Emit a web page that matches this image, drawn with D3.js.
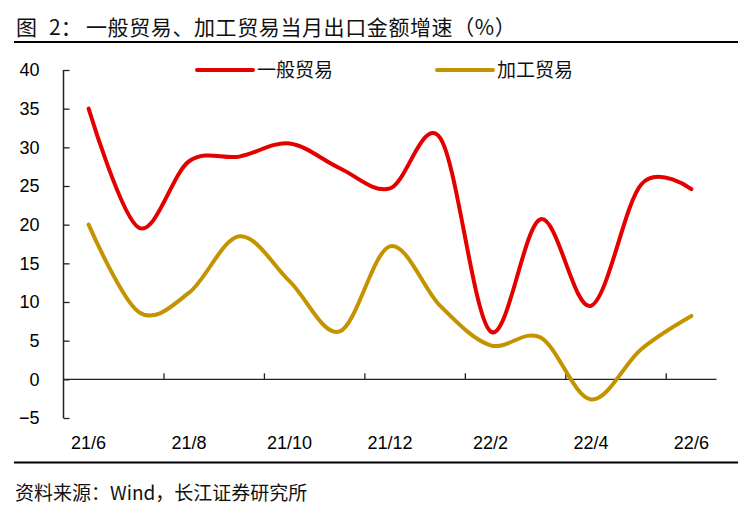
<!DOCTYPE html>
<html>
<head>
<meta charset="utf-8">
<script src="https://cdn.jsdelivr.net/npm/d3@7"></script>
<style>
  body { margin: 0; background: #fff; }
  text { font-family: "Liberation Sans", Arial, sans-serif; }
  .cjk { font-family: "Noto Sans CJK SC", sans-serif; }
</style>
</head>
<body>
<div id="wrapper"></div>
<script>
// data
const months = ["21/6","21/7","21/8","21/9","21/10","21/11","21/12","22/1","22/2","22/3","22/4","22/5","22/6"]
const generalTrade = [35.0, 19.6, 28.2, 28.8, 30.5, 27.3, 24.7, 31.2, 6.2, 20.7, 9.5, 25.2, 24.6]
const processingTrade = [20.0, 8.7, 11.2, 18.5, 12.7, 6.2, 17.2, 9.5, 4.4, 5.4, -2.6, 3.9, 8.2]
const yTicks = [-5, 0, 5, 10, 15, 20, 25, 30, 35, 40]
const xLabels = ["21/6","21/8","21/10","21/12","22/2","22/4","22/6"]
const seriesNames = ["一般贸易", "加工贸易"]
const colors = ["#E50000", "#C49300"]

const width = 756
const height = 520
const dimensions = {
  left: 63.5,
  right: 716.5,
  top: 70,
  bottom: 418
}

const svg = d3.select("#wrapper")
  .append("svg")
  .attr("width", width)
  .attr("height", height)

svg.append("rect").attr("width", width).attr("height", height).attr("fill", "#fff")

// title + rules
const title = svg.append("text")
  .attr("class", "cjk")
  .attr("y", 35)
  .attr("font-size", 21)
  .attr("fill", "#111")
title.append("tspan").attr("x", 16).text("图 ")
title.append("tspan").attr("x", 49).text("2：")
title.append("tspan").attr("x", 86).attr("letter-spacing", 0.6).text("一般贸易、加工贸易当月出口金额增速（%）")

svg.append("line")
  .attr("x1", 14).attr("x2", 738)
  .attr("y1", 42).attr("y2", 42)
  .attr("stroke", "#000").attr("stroke-width", 2)

svg.append("line")
  .attr("x1", 14).attr("x2", 738)
  .attr("y1", 462.5).attr("y2", 462.5)
  .attr("stroke", "#000").attr("stroke-width", 2)

svg.append("text")
  .attr("class", "cjk")
  .attr("x", 15)
  .attr("y", 500)
  .attr("font-size", 19)
  .attr("fill", "#111")
  .text("资料来源：Wind，长江证券研究所")

// scales
const xScale = d3.scaleBand()
  .domain(months)
  .range([dimensions.left, dimensions.right])
  .padding(0)

const yScale = d3.scaleLinear()
  .domain([-5, 40])
  .range([dimensions.bottom, dimensions.top])

const xPos = d => xScale(d) + xScale.bandwidth() / 2

// y axis
const yAxis = svg.append("g")
  .attr("transform", `translate(${dimensions.left},0)`)
  .call(d3.axisLeft(yScale).tickValues(yTicks).tickSize(-6).tickPadding(24).tickFormat(d3.format("d")))
yAxis.select(".domain").attr("stroke", "#222").attr("stroke-width", 1.5)
  .attr("d", `M0,${dimensions.top}V${dimensions.bottom}`)
yAxis.selectAll(".tick line").attr("stroke", "#222").attr("stroke-width", 1.3)
yAxis.selectAll(".tick text")
  .attr("font-size", 18)
  .attr("fill", "#000")
  .attr("font-family", "Liberation Sans, Arial, sans-serif")

// x axis at zero
const tickBounds = d3.range(2, months.length, 2).map(i => xScale(months[i]))
const xAxis = svg.append("g")
  .attr("transform", `translate(0,${yScale(0)})`)
xAxis.append("line")
  .attr("x1", dimensions.left).attr("x2", dimensions.right)
  .attr("stroke", "#222").attr("stroke-width", 1.3)
xAxis.selectAll(".xtick")
  .data(tickBounds)
  .join("line")
  .attr("class", "xtick")
  .attr("x1", d => d).attr("x2", d => d)
  .attr("y1", 0).attr("y2", -6)
  .attr("stroke", "#222").attr("stroke-width", 1.3)

svg.append("g")
  .selectAll("text")
  .data(xLabels)
  .join("text")
  .attr("x", d => xPos(d))
  .attr("y", 449)
  .attr("text-anchor", "middle")
  .attr("font-size", 18)
  .attr("fill", "#000")
  .text(d => d)

// lines
const lineGen = d3.line()
  .x((d, i) => xPos(months[i]))
  .y(d => yScale(d))
  .curve(d3.curveCardinal.tension(0))

const series = [generalTrade, processingTrade]
svg.append("g")
  .selectAll("path")
  .data(series)
  .join("path")
  .attr("d", d => lineGen(d))
  .attr("fill", "none")
  .attr("stroke", (d, i) => colors[i])
  .attr("stroke-width", 4)
  .attr("stroke-linecap", "round")
  .attr("stroke-linejoin", "round")

// legend
const legendX = [197, 437]
const legend = svg.append("g")
legend.selectAll("line")
  .data(seriesNames)
  .join("line")
  .attr("x1", (d, i) => legendX[i])
  .attr("x2", (d, i) => legendX[i] + 56)
  .attr("y1", 70).attr("y2", 70)
  .attr("stroke", (d, i) => colors[i])
  .attr("stroke-width", 4)
  .attr("stroke-linecap", "round")
legend.selectAll("text")
  .data(seriesNames)
  .join("text")
  .attr("class", "cjk")
  .attr("x", (d, i) => legendX[i] + 60)
  .attr("y", 77)
  .attr("font-size", 19)
  .attr("fill", "#111")
  .text(d => d)
</script>
</body>
</html>
